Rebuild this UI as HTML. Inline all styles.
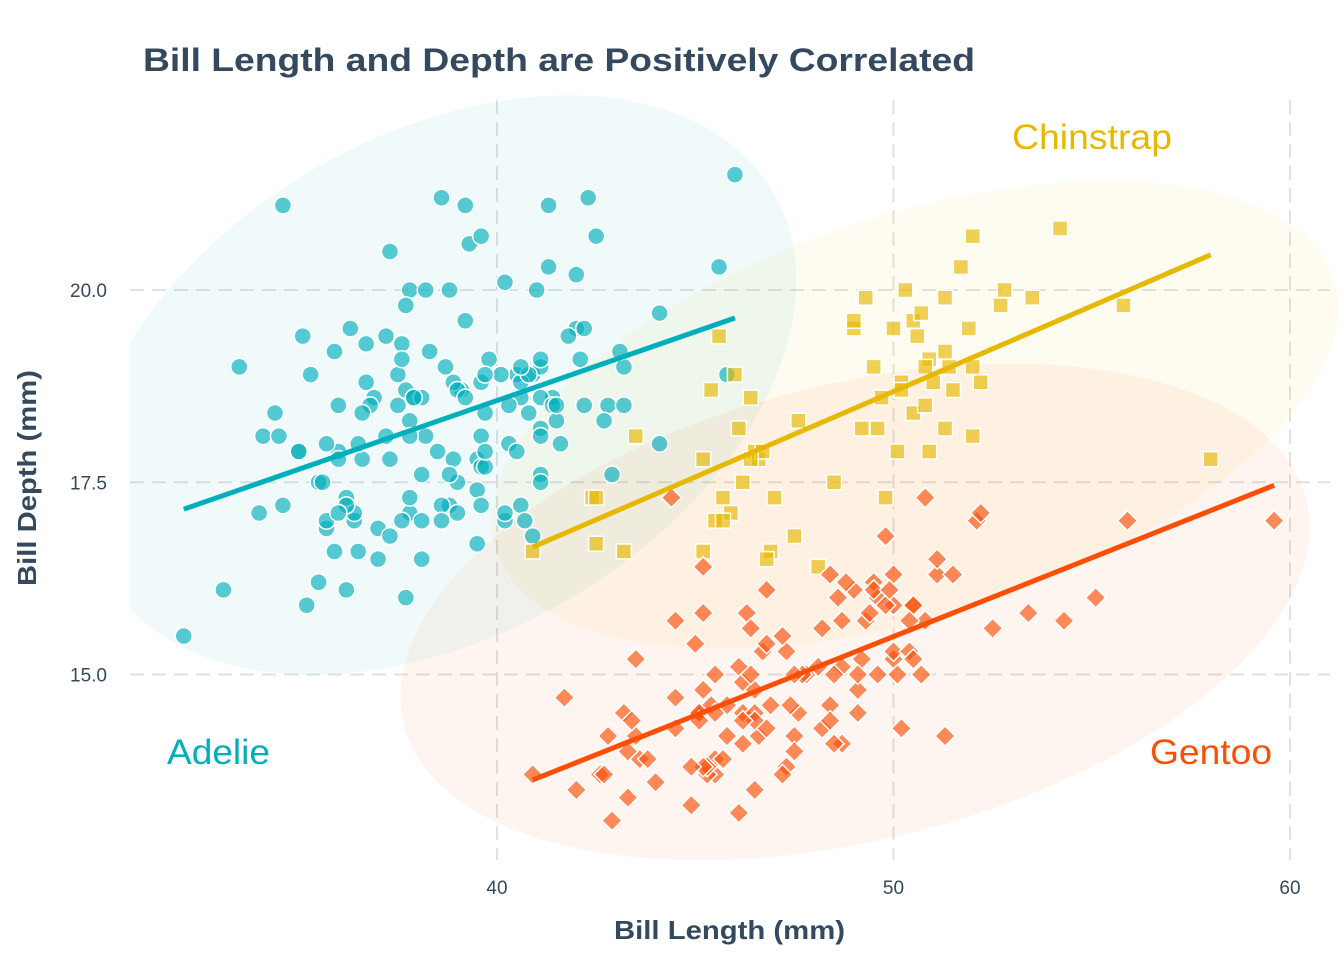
<!DOCTYPE html>
<html><head><meta charset="utf-8"><style>
html,body{margin:0;padding:0;background:#fff;}
svg{display:block;font-family:"Liberation Sans",Arial,sans-serif;}
</style></head><body>
<svg id="chart" width="1344" height="960" viewBox="0 0 1344 960" xmlns="http://www.w3.org/2000/svg">
<defs><clipPath id="plotclip"><rect x="130" y="80" width="1214" height="790"/></clipPath></defs>
<text x="143" y="71" font-size="32" font-weight="bold" fill="#34495e" textLength="832" lengthAdjust="spacingAndGlyphs">Bill Length and Depth are Positively Correlated</text>
<g id="grid"></g>
<g id="ellipses" clip-path="url(#plotclip)"></g>
<g id="points"></g>
<g id="lines"></g>
<g id="axes"></g>
<text x="614" y="939" font-size="26" font-weight="bold" fill="#34495e" textLength="231" lengthAdjust="spacingAndGlyphs">Bill Length (mm)</text>
<text transform="translate(36,586) rotate(-90)" font-size="26" font-weight="bold" fill="#34495e" textLength="216" lengthAdjust="spacingAndGlyphs">Bill Depth (mm)</text>
<text x="167" y="764" font-size="35" fill="#00AFBB" textLength="103" lengthAdjust="spacingAndGlyphs">Adelie</text>
<text x="1012" y="149" font-size="35" fill="#E7B800" textLength="160" lengthAdjust="spacingAndGlyphs">Chinstrap</text>
<text x="1150" y="764" font-size="35" fill="#FC4E07" textLength="122" lengthAdjust="spacingAndGlyphs">Gentoo</text>
</svg>
<script>
const xTicks=[40,50,60];
const yTicks=[15.0,17.5,20.0];
const species=["Adelie","Chinstrap","Gentoo"];
const adelieLen=[39.1,39.5,40.3,36.7,39.3,38.9,39.2,34.1,42,37.8,37.8,41.1,38.6,34.6,36.6,38.7,42.5,34.4,46,37.8,37.7,35.9,38.2,38.8,35.3,40.6,40.5,37.9,40.5,39.5,37.2,39.5,40.9,36.4,39.2,38.8,42.2,37.6,39.8,36.5,40.8,36,44.1,37,39.6,41.1,37.5,36,42.3,39.6,40.1,35,42,34.5,41.4,39,40.6,36.5,37.6,35.7,41.3,37.6,41.1,36.4,41.6,35.5,41.1,35.9,41.8,33.5,39.7,39.6,45.8,35.5,42.8,40.9,37.2,36.2,42.1,34.6,42.9,36.7,35.1,37.3,41.3,36.3,36.9,38.3,38.9,35.7,41.1,34,39.6,36.2,40.8,38.1,40.3,33.1,43.2,35,41,37.7,37.8,37.9,39.7,38.6,38.2,38.1,43.2,38.1,45.6,39.7,42.2,39.6,42.7,38.6,37.3,35.7,41.1,36.2,37.7,40.2,41.4,35.2,40.6,38.8,41.5,39,44.1,38.5,43.1,36.8,37.5,38.1,41.1,35.6,40.2,37,39.7,40.2,40.6,32.1,40.7,37.3,39,39.2,36.6,36,37.8,36,41.5];
const adelieDep=[18.7,17.4,18,19.3,20.6,17.8,19.6,18.1,20.2,17.1,17.3,17.6,21.2,21.1,17.8,19,20.7,18.4,21.5,18.3,18.7,19.2,18.1,17.2,18.9,18.6,17.9,18.6,18.9,16.7,18.1,17.8,18.9,17,21.1,20,18.5,19.3,19.1,18,18.4,18.5,19.7,16.9,18.8,19,18.9,17.9,21.2,17.7,18.9,17.9,19.5,18.1,18.6,17.5,18.8,16.6,19.1,16.9,21.1,17,18.2,17.1,18,16.2,19.1,16.6,19.4,19,18.4,17.2,18.9,17.5,18.5,16.8,19.4,16.1,19.1,17.2,17.6,18.8,19.4,17.8,20.3,19.5,18.6,19.2,18.8,18,18.1,17.1,18.1,17.3,18.9,18.6,18.5,16.1,18.5,17.9,20,16,20,18.6,18.9,17.2,20,17,19,16.5,20.3,17.7,19.5,20.7,18.3,17,20.5,17,18.6,17.2,19.8,17,18.5,15.9,19,17.6,18.3,17.1,18,17.9,19.2,18.5,18.5,17.6,17.5,17.5,20.1,16.5,17.9,17.1,17.2,15.5,17,16.8,18.7,18.6,18.4,17.8,18.1,17.1,18.5];
const chinLen=[46.5,50,51.3,45.4,52.7,45.2,46.1,51.3,46,51.3,46.6,51.7,47,52,45.9,50.5,50.3,58,46.4,49.2,42.4,48.5,43.2,50.6,46.7,52,50.5,49.5,46.4,52.8,40.9,54.2,42.5,51,49.7,47.5,47.6,52,46.9,53.5,49,46.2,50.9,45.5,50.9,50.8,50.1,49,51.5,49.8,48.1,51.4,45.7,50.7,42.5,52.2,45.2,49.3,50.2,45.6,51.9,46.8,45.7,55.8,43.5,49.6,50.8,50.2];
const chinDep=[17.9,19.5,19.2,18.7,19.8,17.8,18.2,18.2,18.9,19.9,17.8,20.3,17.3,18.1,17.1,19.6,20,17.8,18.6,18.2,17.3,17.5,16.6,19.4,17.9,19,18.4,19,17.8,20,16.6,20.8,16.7,18.8,18.6,16.8,18.3,20.7,16.6,19.9,19.5,17.5,19.1,17,17.9,18.5,17.9,19.6,18.7,17.3,16.4,19,17.3,19.7,17.3,18.8,16.6,19.9,18.8,19.4,19.5,16.5,17,19.8,18.1,18.2,19,18.7];
const gentooLen=[46.1,50,48.7,50,47.6,46.5,45.4,46.7,43.3,46.8,40.9,49,45.5,48.4,45.8,49.3,42,49.2,46.2,48.7,50.2,45.1,46.5,46.3,42.9,46.1,44.5,47.8,48.2,50,47.3,42.8,45.1,59.6,49.1,48.4,42.6,44.4,44,48.7,42.7,49.6,45.3,49.6,50.5,43.6,45.5,50.5,44.9,45.2,46.6,48.5,45.1,50.1,46.5,45,43.8,45.5,43.2,50.4,45.3,46.2,45.7,54.3,45.8,49.8,46.2,49.5,43.5,50.7,47.7,46.4,48.2,46.5,46.4,48.6,47.5,51.1,45.2,45.2,49.1,52.5,47.4,50,44.9,50.8,43.4,51.3,47.5,52.1,47.5,52.2,45.5,49.5,44.5,50.8,49.4,46.9,48.4,51.1,48.5,55.9,47.2,49.1,47.3,46.8,41.7,53.4,43.3,48.1,50.5,49.8,43.5,51.5,46.2,55.1,44.5,48.8,47.2,46.8,50.4,45.2,49.9];
const gentooDep=[13.2,16.3,14.1,15.2,14.5,13.5,14.6,15.3,13.4,15.4,13.7,16.1,13.7,14.6,14.6,15.7,13.5,15.2,14.5,15.1,14.3,14.5,14.5,15.8,13.1,15.1,14.3,15,14.3,15.3,15.3,14.2,14.5,17,14.8,16.3,13.7,17.3,13.6,15.7,13.7,16,13.7,15,15.9,13.9,13.9,15.9,13.3,15.8,14.2,14.1,14.4,15,14.4,15.4,13.9,15,14.5,15.3,13.8,14.9,13.9,15.7,14.2,16.8,14.4,16.2,14.2,15,15,15.6,15.6,14.8,15,16,14.2,16.3,13.8,16.4,14.5,15.6,14.6,15.9,13.8,17.3,14.4,14.2,14,17,15,17.1,14.5,16.1,14.7,15.7,15.8,14.6,14.4,16.5,15,17,15.5,15,13.8,16.1,14.7,15.8,14,15.1,15.2,15.9,15.2,16.3,14.1,16,15.7,16.2,13.7,14.3,15.7,14.8,16.1];

const NS="http://www.w3.org/2000/svg";
const X0=130,X1=1330,Y0=100,Y1=860;
function xs(v){return 497+(v-40)*39.65;}
function ys(v){return 290-(v-20)*76.9;}
function mk(tag,attrs,parent){const e=document.createElementNS(NS,tag);for(const k in attrs)e.setAttribute(k,attrs[k]);parent.appendChild(e);return e;}
const grid=document.getElementById('grid'),axes=document.getElementById('axes');
xTicks.forEach(t=>{
  const l=mk('line',{x1:xs(t),x2:xs(t),y1:Y0,y2:Y1,stroke:'#e2e2e2','stroke-width':2,'stroke-dasharray':'14,8'},grid);
  
  
  const tx=mk('text',{x:xs(t),y:894,'font-size':19,fill:'#34495e','text-anchor':'middle'},axes);
  tx.textContent=t;
  
  
});
yTicks.forEach(t=>{
  const l=mk('line',{x1:X0,x2:X1,y1:ys(t),y2:ys(t),stroke:'#e2e2e2','stroke-width':2,'stroke-dasharray':'14,8'},grid);
  
  
  const tx=mk('text',{x:107,y:ys(t)+7,'font-size':19,fill:'#34495e','text-anchor':'end'},axes);
  tx.textContent=t.toFixed(1);
  
  
});
const eg=document.getElementById('ellipses');
[[440,385,385,250,-30,'#00AFBB','adelie'],[915,415,440,200,-18,'#E7B800','chinstrap'],[855,612,465,228,-14,'#FC4E07','gentoo']].forEach(e=>{
  const el=mk('ellipse',{cx:0,cy:0,rx:e[2],ry:e[3],fill:e[5],'fill-opacity':0.06,transform:`translate(${e[0]},${e[1]}) rotate(${e[4]})`},eg);
  
  
});
const pg=document.getElementById('points'),lg=document.getElementById('lines');
function fit(xv,yv){const n=xv.length;let mx=0,my=0;for(let i=0;i<n;i++){mx+=xv[i];my+=yv[i];}mx/=n;my/=n;let sxy=0,sxx=0;for(let i=0;i<n;i++){sxy+=(xv[i]-mx)*(yv[i]-my);sxx+=(xv[i]-mx)**2;}const b=sxy/sxx;return [b,my-b*mx];}
const sets=[[adelieLen,adelieDep,'#00AFBB','circle','adelie'],[chinLen,chinDep,'#E7B800','square','chinstrap'],[gentooLen,gentooDep,'#FC4E07','diamond','gentoo']];
sets.forEach(s=>{
  const [xv,yv,col,shape,nm]=s;
  for(let i=0;i<xv.length;i++){
    const cx=xs(xv[i]),cy=ys(yv[i]);let p;
    if(shape==='circle')p=mk('circle',{cx:cx,cy:cy,r:8.5,fill:col,'fill-opacity':0.65,stroke:'#fff','stroke-width':1.5},pg);
    else if(shape==='square')p=mk('rect',{x:cx-7.5,y:cy-7.5,width:15,height:15,fill:col,'fill-opacity':0.65,stroke:'#fff','stroke-width':1.5},pg);
    else p=mk('polygon',{points:`${cx},${cy-10} ${cx+10},${cy} ${cx},${cy+10} ${cx-10},${cy}`,fill:col,'fill-opacity':0.65,stroke:'#fff','stroke-width':1.5},pg);
    
    
  }
  const [b,a]=fit(xv,yv);const mn=Math.min(...xv),mx=Math.max(...xv);
  const ln=mk('line',{x1:xs(mn),y1:ys(a+b*mn),x2:xs(mx),y2:ys(a+b*mx),stroke:col,'stroke-width':5},lg);
  
  
});
</script>
</body></html>
